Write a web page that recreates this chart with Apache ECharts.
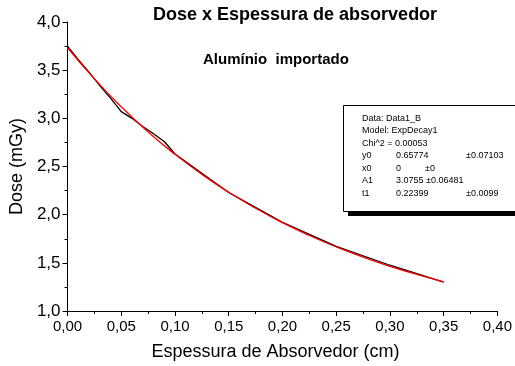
<!DOCTYPE html>
<html>
<head>
<meta charset="utf-8">
<script src="https://cdn.jsdelivr.net/npm/echarts@6/dist/echarts.min.js"></script>
<style>
html,body{margin:0;padding:0;background:#fff;}
#c{width:515px;height:366px;}
</style>
</head>
<body>
<div id="c"></div>
<script>
var dataX = [0, 0.01, 0.02, 0.03, 0.04, 0.05, 0.06, 0.07, 0.08, 0.09, 0.10, 0.15, 0.20, 0.25, 0.30, 0.35];
var dataY = [3.75, 3.61, 3.48, 3.34, 3.21, 3.07, 3.00, 2.915, 2.84, 2.76, 2.63, 2.23, 1.92, 1.67, 1.475, 1.30];
var fitX = [0, 0.025, 0.05, 0.075, 0.10, 0.125, 0.15, 0.175, 0.20, 0.225, 0.25, 0.275, 0.30, 0.325, 0.35];
var fitY = [3.733, 3.409, 3.119, 2.858, 2.626, 2.418, 2.232, 2.066, 1.917, 1.784, 1.665, 1.559, 1.464, 1.379, 1.302];
var xTicks = [0, 0.05, 0.10, 0.15, 0.20, 0.25, 0.30, 0.35, 0.40];
var yTicks = [1.0, 1.5, 2.0, 2.5, 3.0, 3.5, 4.0];
var titleText = 'Dose x Espessura de absorvedor';
var subtitleText = 'Alumínio  importado';
var xName = 'Espessura de Absorvedor (cm)';
var yName = 'Dose (mGy)';
var boxLines = [
  ['Data: Data1_B', '', ''],
  ['Model: ExpDecay1', '', ''],
  ['Chi^2 = 0.00053', '', ''],
  ['y0', '0.65774', '±0.07103'],
  ['x0', '0', '±0'],
  ['A1', '3.0755 ±0.06481', ''],
  ['t1', '0.22399', '±0.0099']
];

var FONT = '"Liberation Sans", Arial, sans-serif';
function pairs(xs, ys){ return xs.map(function(x,i){ return [x, ys[i]]; }); }

var chart = echarts.init(document.getElementById('c'), null, {renderer:'canvas'});

var graphics = [
  {type:'text', left:153, top:6, style:{text:titleText, font:'bold 18px ' + FONT, fill:'#000'}},
  {type:'text', left:203, top:52, style:{text:subtitleText, font:'bold 15px ' + FONT, fill:'#000'}},
  {type:'rect', shape:{x:348, y:110, width:200, height:106}, style:{fill:'#000'}, z:10},
  {type:'rect', shape:{x:343.5, y:105.5, width:200, height:106}, style:{fill:'#fff', stroke:'#000', lineWidth:1}, z:11}
];
var col = [362, 396, 466];
boxLines.forEach(function(row, i){
  row.forEach(function(t, j){
    if (!t) return;
    var x = col[j];
    if (i === 4 && j === 2) x = 425;
    graphics.push({type:'text', x:x, y:114 + i*12.5, z:12,
      style:{text:t, font:'9px ' + FONT, fill:'#000'}});
  });
});

chart.setOption({
  animation:false,
  backgroundColor:'#fff',
  grid:{left:62, right:15, top:22, bottom:49},
  xAxis:{
    type:'value', min:0, max:0.4, interval:0.05,
    name:xName, nameLocation:'middle', nameGap:32,
    nameTextStyle:{fontFamily:FONT, fontSize:18, color:'#000', padding:[0,14,0,0]},
    axisLine:{show:true, lineStyle:{color:'#000', width:1}},
    axisTick:{show:true, inside:false, length:5, lineStyle:{color:'#000'}},
    minorTick:{show:true, splitNumber:2, length:3, lineStyle:{color:'#000'}},
    splitLine:{show:false},
    axisLabel:{margin:8, fontFamily:FONT, fontSize:15, color:'#000',
      formatter:function(v){ return v.toFixed(2).replace('.', ','); }}
  },
  yAxis:{
    type:'value', min:1, max:4, interval:0.5,
    name:yName, nameLocation:'middle', nameGap:38,
    nameTextStyle:{fontFamily:FONT, fontSize:18, color:'#000'},
    axisLine:{show:true, lineStyle:{color:'#000', width:1}},
    axisTick:{show:true, inside:false, length:5, lineStyle:{color:'#000'}},
    minorTick:{show:true, splitNumber:2, length:3, lineStyle:{color:'#000'}},
    splitLine:{show:false},
    axisLabel:{margin:7, fontFamily:FONT, fontSize:17, color:'#000',
      formatter:function(v){ return v.toFixed(1).replace('.', ','); }}
  },
  series:[
    {type:'line', data:pairs(dataX, dataY), showSymbol:false, symbol:'none',
     lineStyle:{color:'#000', width:1.3}, z:2},
    {type:'line', data:pairs(fitX, fitY), smooth:true, showSymbol:false, symbol:'none',
     lineStyle:{color:'#ff0000', width:1.3}, z:3}
  ],
  graphic:graphics
});
</script>
</body>
</html>
